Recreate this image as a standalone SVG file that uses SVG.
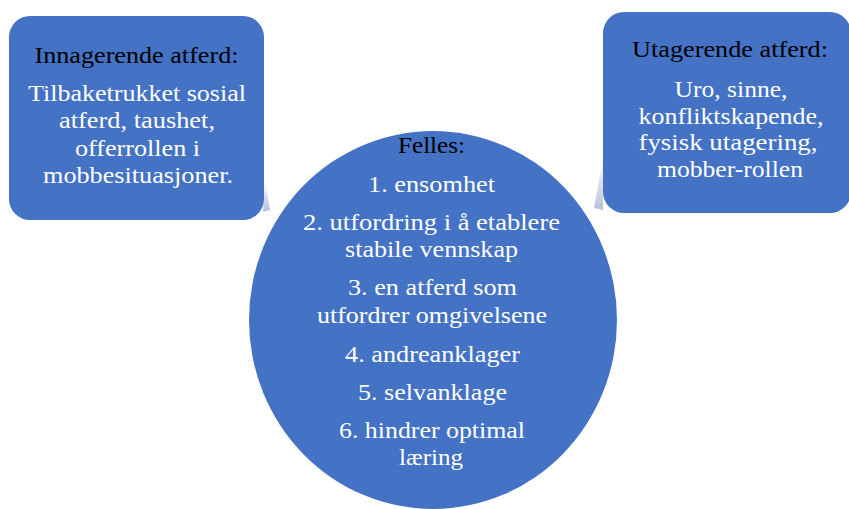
<svg xmlns="http://www.w3.org/2000/svg" width="849" height="509" viewBox="0 0 849 509">
  <defs>
    <style>
      .shape { fill: #4472C4; }
      .title { fill: #000000; }
      .body { fill: #FFFFFF; }
      .sliver { fill: url(#sliverGrad); }
    </style>
    <linearGradient id="sliverGrad" x1="0" y1="0" x2="0" y2="1">
      <stop offset="0" stop-color="#FFFFFF"/>
      <stop offset="1" stop-color="#B4C0DC"/>
    </linearGradient>
  </defs>
  <rect width="849" height="509" fill="#FFFFFF"/>

  <g id="connectors">
    <polygon class="sliver" points="265,180 270,210 263,212"/>
    <polygon class="sliver" points="603,158 594,208 603,210"/>
  </g>

  <g id="node-innagerende" font-family="Liberation Serif, Times New Roman, serif" font-size="24" text-anchor="middle">
    <rect class="shape" x="9" y="16" width="255" height="204" rx="21" ry="21"/>
    <text class="title" x="136.5" y="63" textLength="204" lengthAdjust="spacingAndGlyphs">Innagerende atferd:</text>
    <text class="body" x="137" y="101" textLength="218" lengthAdjust="spacingAndGlyphs">Tilbaketrukket  sosial</text>
    <text class="body" x="137" y="128" textLength="156" lengthAdjust="spacingAndGlyphs">atferd, taushet,</text>
    <text class="body" x="137.5" y="155.5" textLength="125" lengthAdjust="spacingAndGlyphs">offerrollen i</text>
    <text class="body" x="138" y="183" textLength="190" lengthAdjust="spacingAndGlyphs">mobbesituasjoner.</text>
  </g>

  <g id="node-utagerende" font-family="Liberation Serif, Times New Roman, serif" font-size="24" text-anchor="middle">
    <rect class="shape" x="603" y="12" width="248" height="201" rx="21" ry="21"/>
    <text class="title" x="730" y="57" textLength="196" lengthAdjust="spacingAndGlyphs">Utagerende atferd:</text>
    <text class="body" x="731" y="97" textLength="113" lengthAdjust="spacingAndGlyphs">Uro, sinne,</text>
    <text class="body" x="731" y="123.5" textLength="185" lengthAdjust="spacingAndGlyphs">konfliktskapende,</text>
    <text class="body" x="728" y="150" textLength="179" lengthAdjust="spacingAndGlyphs">fysisk utagering,</text>
    <text class="body" x="730" y="177" textLength="146" lengthAdjust="spacingAndGlyphs">mobber-rollen</text>
  </g>

  <g id="node-felles" font-family="Liberation Serif, Times New Roman, serif" font-size="24" text-anchor="middle">
    <ellipse class="shape" cx="433" cy="320" rx="184" ry="189"/>
    <text class="title" x="431.5" y="153" textLength="67" lengthAdjust="spacingAndGlyphs">Felles:</text>
    <text class="body" x="431.5" y="192" textLength="127" lengthAdjust="spacingAndGlyphs">1. ensomhet</text>
    <text class="body" x="431.5" y="230" textLength="257" lengthAdjust="spacingAndGlyphs">2. utfordring  i å etablere</text>
    <text class="body" x="431.5" y="257" textLength="173" lengthAdjust="spacingAndGlyphs">stabile vennskap</text>
    <text class="body" x="432.5" y="295" textLength="169" lengthAdjust="spacingAndGlyphs">3. en atferd som</text>
    <text class="body" x="432" y="323" textLength="230" lengthAdjust="spacingAndGlyphs">utfordrer omgivelsene</text>
    <text class="body" x="432.5" y="362" textLength="175" lengthAdjust="spacingAndGlyphs">4. andreanklager</text>
    <text class="body" x="432.5" y="400" textLength="149" lengthAdjust="spacingAndGlyphs">5. selvanklage</text>
    <text class="body" x="432" y="438" textLength="186" lengthAdjust="spacingAndGlyphs">6. hindrer  optimal</text>
    <text class="body" x="431" y="465" textLength="64" lengthAdjust="spacingAndGlyphs">læring</text>
  </g>
</svg>
